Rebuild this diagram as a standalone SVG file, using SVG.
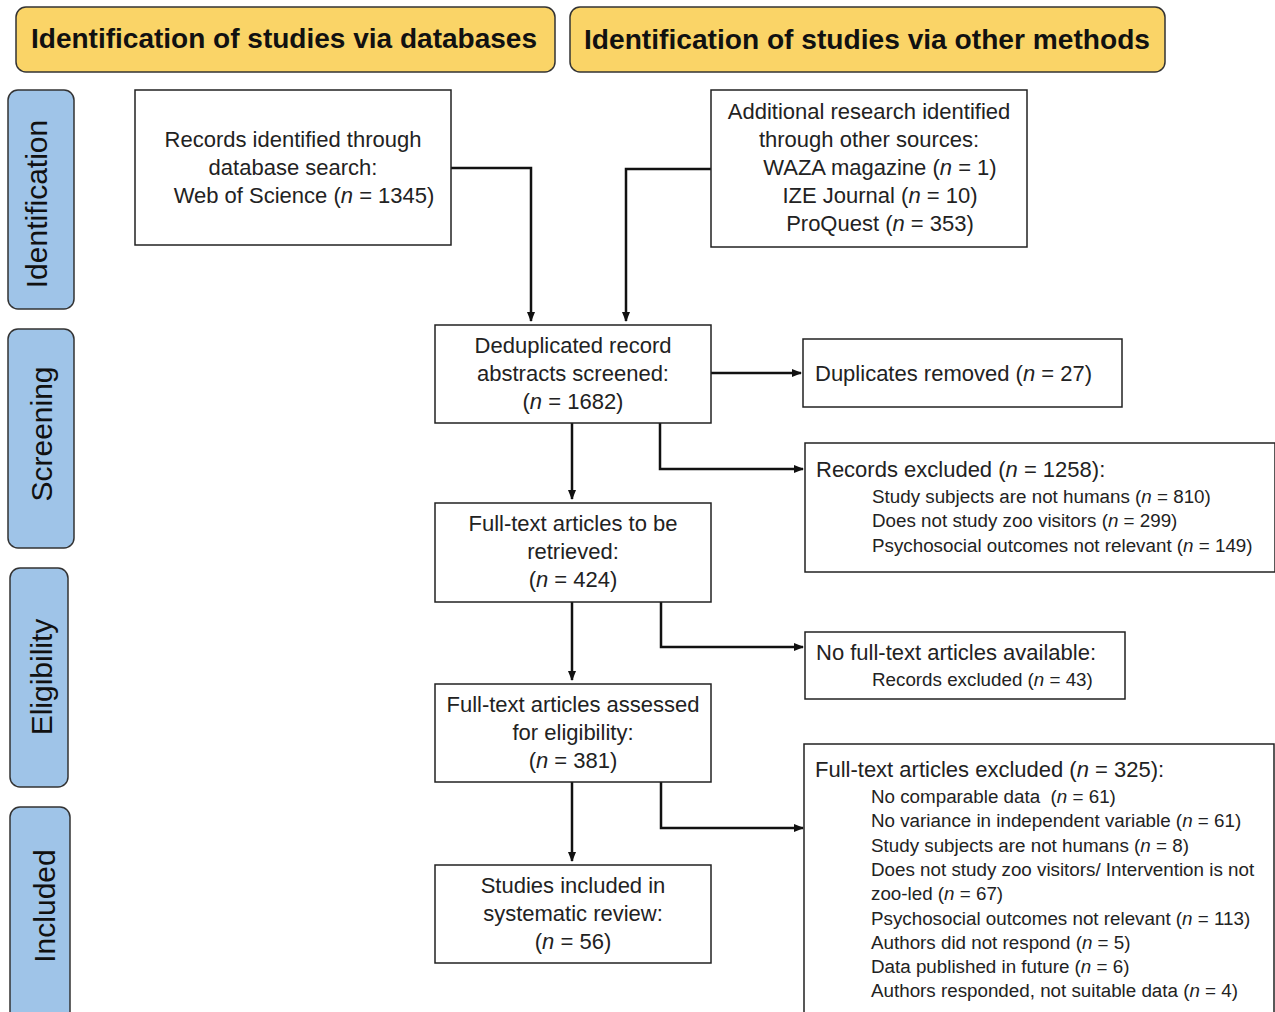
<svg xmlns="http://www.w3.org/2000/svg" width="1275" height="1012" viewBox="0 0 1275 1012">
<defs>
<style>
.hdr{fill:#FAD467;stroke:#333;stroke-width:1.5}
.phase{fill:#9FC4E8;stroke:#333;stroke-width:1.5}
.box{fill:#fff;stroke:#222;stroke-width:1.5}
.ht{font-family:"Liberation Sans",Arial,sans-serif;font-weight:bold;font-size:27px;fill:#111}
.pt{font-family:"Liberation Sans",Arial,sans-serif;font-size:30px;fill:#111}
.t{font-family:"Liberation Sans",Arial,sans-serif;font-size:22px;fill:#222}
.s{font-family:"Liberation Sans",Arial,sans-serif;font-size:18.8px;fill:#222}
.c{text-anchor:middle}
.i{font-style:italic}
.ln{fill:none;stroke:#111;stroke-width:2.5}
</style>
<marker id="ah" viewBox="0 0 10 10" refX="9" refY="5" markerWidth="4" markerHeight="4" orient="auto" markerUnits="strokeWidth">
<path d="M0,1 L10,5 L0,9 z" fill="#111"/>
</marker>
</defs>
<rect width="1275" height="1012" fill="#fff"/>

<g id="hdr-databases">
<rect class="hdr" x="16" y="7" width="539" height="65" rx="10"/>
<text class="ht c" x="284" y="48" textLength="506" lengthAdjust="spacingAndGlyphs">Identification of studies via databases</text>
</g>
<g id="hdr-other">
<rect class="hdr" x="570" y="7" width="595" height="65" rx="10"/>
<text class="ht c" x="867" y="49" textLength="566" lengthAdjust="spacingAndGlyphs">Identification of studies via other methods</text>
</g>

<g id="phase-identification">
<rect class="phase" x="8" y="90" width="66" height="219" rx="10"/>
<text class="pt c" transform="translate(47,204) rotate(-90)">Identification</text>
</g>
<g id="phase-screening">
<rect class="phase" x="8" y="329" width="66" height="219" rx="10"/>
<text class="pt c" transform="translate(52,434) rotate(-90)">Screening</text>
</g>
<g id="phase-eligibility">
<rect class="phase" x="10" y="568" width="58" height="219" rx="10"/>
<text class="pt c" transform="translate(52,677) rotate(-90)">Eligibility</text>
</g>
<g id="phase-included">
<rect class="phase" x="10" y="807" width="60" height="215" rx="10"/>
<text class="pt c" transform="translate(55,906) rotate(-90)">Included</text>
</g>

<g id="connectors">
<path class="ln" d="M451,168 H531 V321" marker-end="url(#ah)"/>
<path class="ln" d="M711,169 H626 V321" marker-end="url(#ah)"/>
<path class="ln" d="M711,373 H801" marker-end="url(#ah)"/>
<path class="ln" d="M572,423 V499" marker-end="url(#ah)"/>
<path class="ln" d="M660,423 V469 H803" marker-end="url(#ah)"/>
<path class="ln" d="M572,602 V680" marker-end="url(#ah)"/>
<path class="ln" d="M661,602 V647 H803" marker-end="url(#ah)"/>
<path class="ln" d="M572,782 V861" marker-end="url(#ah)"/>
<path class="ln" d="M661,782 V828 H803" marker-end="url(#ah)"/>
</g>

<g id="records-db">
<rect class="box" x="135" y="90" width="316" height="155"/>
<text class="t c" x="293" y="147">Records identified through</text>
<text class="t c" x="293" y="175">database search:</text>
<text class="t c" x="304" y="203">Web of Science (<tspan class="i">n</tspan> = 1345)</text>
</g>

<g id="records-other">
<rect class="box" x="711" y="90" width="316" height="157"/>
<text class="t c" x="869" y="119">Additional research identified</text>
<text class="t c" x="869" y="147">through other sources:</text>
<text class="t c" x="880" y="175">WAZA magazine (<tspan class="i">n</tspan> = 1)</text>
<text class="t c" x="880" y="203">IZE Journal (<tspan class="i">n</tspan> = 10)</text>
<text class="t c" x="880" y="231">ProQuest (<tspan class="i">n</tspan> = 353)</text>
</g>

<g id="dedup">
<rect class="box" x="435" y="325" width="276" height="98"/>
<text class="t c" x="573" y="353">Deduplicated record</text>
<text class="t c" x="573" y="381">abstracts screened:</text>
<text class="t c" x="573" y="409">(<tspan class="i">n</tspan> = 1682)</text>
</g>

<g id="duplicates">
<rect class="box" x="803" y="339" width="319" height="68"/>
<text class="t" x="815" y="381">Duplicates removed (<tspan class="i">n</tspan> = 27)</text>
</g>

<g id="records-excluded">
<rect class="box" x="805" y="443" width="470" height="129"/>
<text class="t" x="816" y="477">Records excluded (<tspan class="i">n</tspan> = 1258):</text>
<text class="s" x="872" y="503">Study subjects are not humans (<tspan class="i">n</tspan> = 810)</text>
<text class="s" x="872" y="527">Does not study zoo visitors (<tspan class="i">n</tspan> = 299)</text>
<text class="s" x="872" y="552">Psychosocial outcomes not relevant (<tspan class="i">n</tspan> = 149)</text>
</g>

<g id="fulltext-retrieved">
<rect class="box" x="435" y="503" width="276" height="99"/>
<text class="t c" x="573" y="531">Full-text articles to be</text>
<text class="t c" x="573" y="559">retrieved:</text>
<text class="t c" x="573" y="587">(<tspan class="i">n</tspan> = 424)</text>
</g>

<g id="no-fulltext">
<rect class="box" x="805" y="632" width="320" height="67"/>
<text class="t" x="816" y="660">No full-text articles available:</text>
<text class="s" x="872" y="686">Records excluded (<tspan class="i">n</tspan> = 43)</text>
</g>

<g id="fulltext-assessed">
<rect class="box" x="435" y="684" width="276" height="98"/>
<text class="t c" x="573" y="712">Full-text articles assessed</text>
<text class="t c" x="573" y="740">for eligibility:</text>
<text class="t c" x="573" y="768">(<tspan class="i">n</tspan> = 381)</text>
</g>

<g id="fulltext-excluded">
<rect class="box" x="804" y="744" width="470" height="280"/>
<text class="t" x="815" y="777">Full-text articles excluded (<tspan class="i">n</tspan> = 325):</text>
<text class="s" x="871" y="803" xml:space="preserve">No comparable data  (<tspan class="i">n</tspan> = 61)</text>
<text class="s" x="871" y="827">No variance in independent variable (<tspan class="i">n</tspan> = 61)</text>
<text class="s" x="871" y="852">Study subjects are not humans (<tspan class="i">n</tspan> = 8)</text>
<text class="s" x="871" y="876">Does not study zoo visitors/ Intervention is not</text>
<text class="s" x="871" y="900">zoo-led (<tspan class="i">n</tspan> = 67)</text>
<text class="s" x="871" y="925">Psychosocial outcomes not relevant (<tspan class="i">n</tspan> = 113)</text>
<text class="s" x="871" y="949">Authors did not respond (<tspan class="i">n</tspan> = 5)</text>
<text class="s" x="871" y="973">Data published in future (<tspan class="i">n</tspan> = 6)</text>
<text class="s" x="871" y="997">Authors responded, not suitable data (<tspan class="i">n</tspan> = 4)</text>
</g>

<g id="included">
<rect class="box" x="435" y="865" width="276" height="98"/>
<text class="t c" x="573" y="893">Studies included in</text>
<text class="t c" x="573" y="921">systematic review:</text>
<text class="t c" x="573" y="949">(<tspan class="i">n</tspan> = 56)</text>
</g>
</svg>
